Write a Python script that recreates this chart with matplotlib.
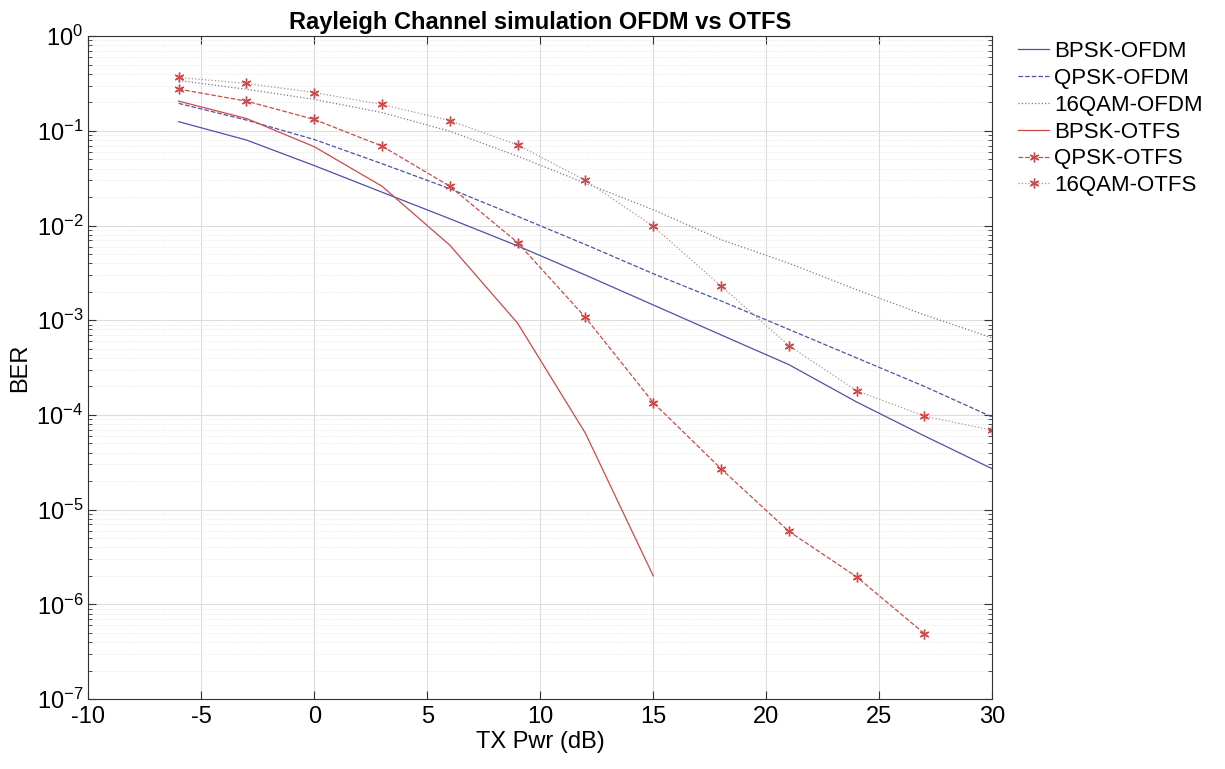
import matplotlib
matplotlib.use("Agg")
import matplotlib.pyplot as plt
from matplotlib.ticker import LogLocator, NullFormatter

plt.rcParams['font.family'] = ['Liberation Sans', 'DejaVu Sans']
plt.rcParams['axes.unicode_minus'] = False

# 数据
tx_pwr = [-6, -3, 0, 3, 6, 9, 12, 15, 18, 21, 24, 27, 30]
bpsk_ofdm = [0.125, 0.080, 0.043, 0.0225, 0.0118, 0.0061, 0.0030, 0.00145,
             0.00070, 0.00034, 0.000137, 6.0e-5, 2.7e-5]
qpsk_ofdm = [0.195, 0.13, 0.081, 0.045, 0.0245, 0.0125, 0.0063, 0.0031,
             0.0016, 0.0008, 0.0004, 0.0002, 9.5e-5]
qam16_ofdm = [0.34, 0.275, 0.215, 0.156, 0.099, 0.054, 0.028, 0.0147,
              0.0071, 0.0040, 0.0021, 0.00114, 0.00065]
bpsk_otfs = [0.206, 0.135, 0.068, 0.026, 0.0062, 0.00093, 6.4e-5, 2.0e-6]
qpsk_otfs = [0.276, 0.206, 0.132, 0.069, 0.026, 0.0066, 0.00107, 0.000135,
             2.7e-5, 5.9e-6, 1.95e-6, 4.9e-7]
qam16_otfs = [0.366, 0.317, 0.254, 0.19, 0.128, 0.071, 0.030, 0.0098,
              0.0023, 0.00054, 0.00018, 9.7e-5, 6.9e-5]

blue = '#5050a8'
red = '#cc4a4a'
star = (6, 2, 0)

fig = plt.figure(figsize=(12.25, 7.69), dpi=100)
ax = fig.add_axes([0.072, 0.091, 0.738, 0.862])

ax.semilogy(tx_pwr, bpsk_ofdm, '-', color=blue, lw=0.9, label='BPSK-OFDM')
ax.semilogy(tx_pwr, qpsk_ofdm, '--', color=blue, lw=0.9, label='QPSK-OFDM')
ax.semilogy(tx_pwr, qam16_ofdm, ':', color='#7a7a9a', lw=0.9, label='16QAM-OFDM')
ax.semilogy(tx_pwr[:len(bpsk_otfs)], bpsk_otfs, '-', color=red, lw=0.9, label='BPSK-OTFS')
ax.semilogy(tx_pwr[:len(qpsk_otfs)], qpsk_otfs, '--', color=red, lw=0.9,
            marker=star, ms=7, mew=1.0, label='QPSK-OTFS')
ax.semilogy(tx_pwr, qam16_otfs, ':', color='#b89090', lw=0.9, marker=star, ms=7,
            mew=1.0, mfc=red, mec=red, label='16QAM-OTFS')

ax.set_xlim(-10, 30)
ax.set_ylim(1e-7, 1)
ax.set_xticks(range(-10, 31, 5))
ax.yaxis.set_major_locator(LogLocator(base=10, numticks=10))
ax.yaxis.set_minor_locator(LogLocator(base=10, subs=range(2, 10), numticks=100))
ax.yaxis.set_minor_formatter(NullFormatter())

ax.grid(True, which='major', color='#dddddd', lw=0.8)
ax.grid(True, which='minor', axis='y', color='#e2e2e2', lw=0.6, ls=':')
ax.set_axisbelow(True)
ax.tick_params(which='both', direction='in', top=True, right=True, labelsize=17, color='#333333')
ax.tick_params(axis='x', pad=5)
ax.tick_params(which='major', length=6)
ax.tick_params(which='minor', length=3)
for s in ax.spines.values():
    s.set_color('#333333')
    s.set_linewidth(0.8)

ax.set_xlabel('TX Pwr (dB)', fontsize=17, labelpad=2)
ax.set_ylabel('BER', fontsize=17)
ax.set_title('Rayleigh Channel simulation OFDM vs OTFS', fontsize=17, fontweight='bold', pad=5)

fig.legend(loc='upper left', bbox_to_anchor=(0.824, 0.958), frameon=False,
           fontsize=16, handlelength=1.4, handletextpad=0.2, labelspacing=0.26,
           borderaxespad=0)

fig.savefig('out.png', dpi=100)
